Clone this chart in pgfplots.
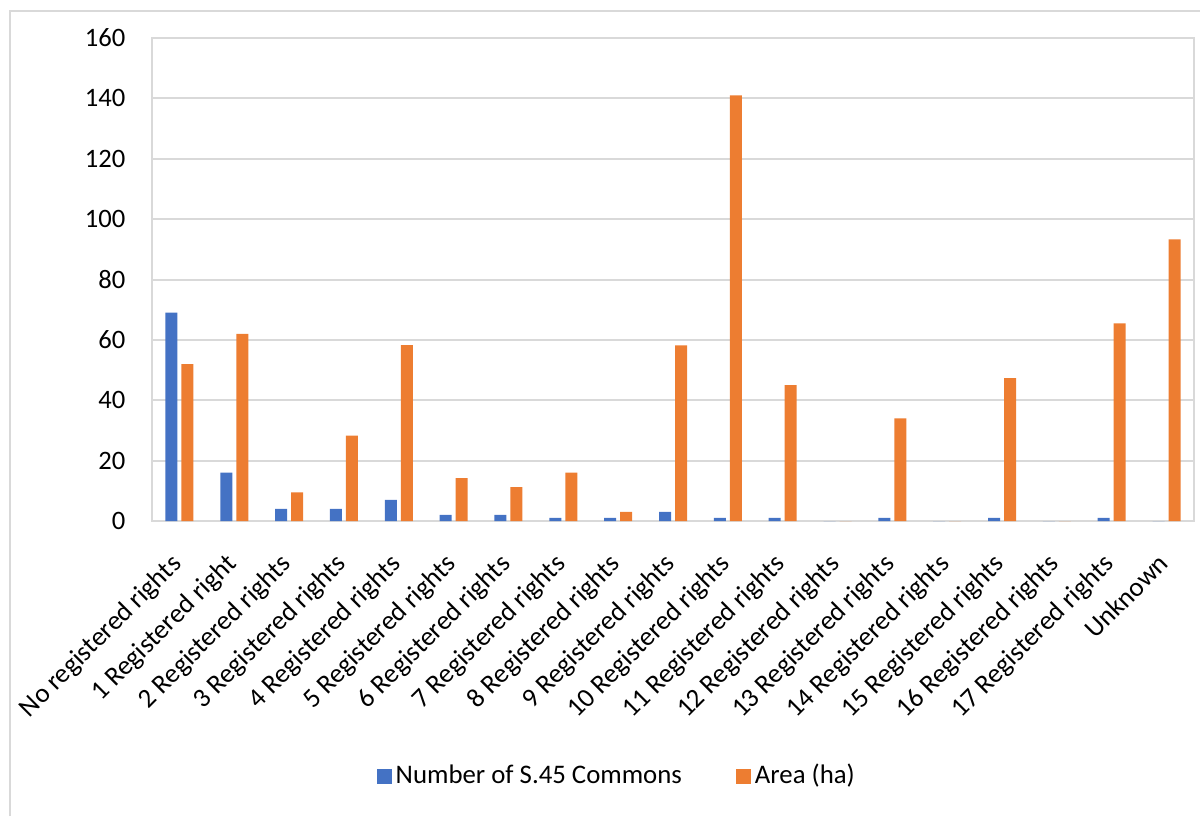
\documentclass[border=0pt]{standalone}
\usepackage{pgfplots}
\pgfplotsset{compat=1.18}
\usepackage{fontspec}
\setmainfont{Carlito}
\definecolor{cblue}{HTML}{4472C4}
\definecolor{corange}{HTML}{ED7D31}
\definecolor{cgrid}{HTML}{D9D9D9}
\begin{document}
\fontsize{13.3}{16}\selectfont
\begin{tikzpicture}
\path[use as bounding box] (-76pt,-147.5pt) rectangle (524pt,260.5pt);
\draw[cgrid, line width=1pt] (-71pt,-147.5pt) -- (-71pt,255pt) -- (524pt,255pt);
\begin{axis}[
  at={(0,0)}, anchor=south west,
  scale only axis, width=521pt, height=241.5pt,
  ybar=2pt, bar width=6pt,
  xmin=-0.5, xmax=18.5, ymin=0, ymax=160,
  ytick={0,20,...,160},
  xtick=data,
  xticklabels={No registered rights,1 Registered right,2 Registered rights,3 Registered rights,4 Registered rights,5 Registered rights,6 Registered rights,7 Registered rights,8 Registered rights,9 Registered rights,10 Registered rights,11 Registered rights,12 Registered rights,13 Registered rights,14 Registered rights,15 Registered rights,16 Registered rights,17 Registered rights,Unknown},
  xticklabel style={rotate=45, anchor=north east, xshift=-9.9pt, yshift=-2.8pt, font=\fontsize{13.5}{16}\selectfont},
  yticklabel style={xshift=-8.7pt, font=\fontsize{13.3}{16}\selectfont},
  /pgf/number format/assume math mode=true,
  major tick length=0pt,
  tick style={draw=none},
  ymajorgrids, major grid style={cgrid, line width=1pt},
  axis line style={cgrid, line width=1pt},
  legend style={at={(0.447,-0.528)}, anchor=center, draw=none, fill=none,
    legend columns=2, font=\fontsize{13.4}{16}\selectfont,
    /tikz/every even column/.append style={column sep=25pt}},
  legend image code/.code={\fill[#1] (0pt,-3.75pt) rectangle (7.5pt,3.75pt);},
]
\addplot[fill=cblue, draw=none] coordinates {
(0,69) (1,16) (2,4) (3,4) (4,7) (5,2) (6,2) (7,1) (8,1) (9,3)
(10,1) (11,1) (12,0) (13,1) (14,0) (15,1) (16,0) (17,1) (18,0)};
\addlegendentry{Number of S.45 Commons}
\addplot[fill=corange, draw=none] coordinates {
(0,52) (1,62) (2,9.5) (3,28.3) (4,58.3) (5,14.2) (6,11.2) (7,16) (8,3) (9,58.2)
(10,141) (11,45) (12,0) (13,34) (14,0) (15,47.3) (16,0) (17,65.5) (18,93.3)};
\addlegendentry{Area (ha)}
\end{axis}
\end{tikzpicture}
\end{document}
